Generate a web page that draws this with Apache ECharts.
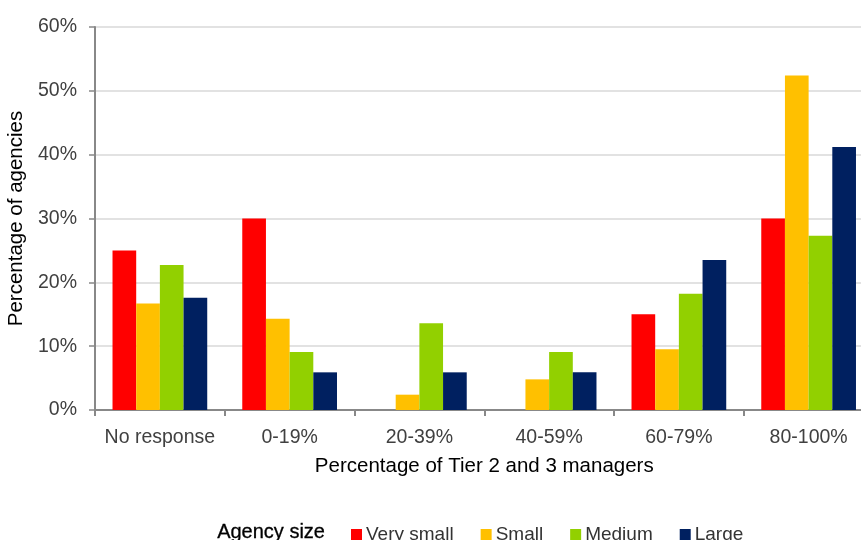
<!DOCTYPE html>
<html><head><meta charset="utf-8">
<script src="https://cdn.jsdelivr.net/npm/echarts@6/dist/echarts.min.js"></script>
<style>html,body{margin:0;padding:0;background:#fff;overflow:hidden}#c{width:861px;height:540px}</style>
</head><body><div id="c"></div>
<script>
const categories = ["No response","0-19%","20-39%","40-59%","60-79%","80-100%"];
const verySmall = [25.0, 30.0, 0, 0, 15.0, 30.0];
const small = [16.7, 14.3, 2.4, 4.8, 9.5, 52.4];
const medium = [22.7, 9.1, 13.6, 9.1, 18.2, 27.3];
const large = [17.6, 5.9, 5.9, 5.9, 23.5, 41.2];
const seriesNames = ["Very small","Small","Medium","Large"];
const colors = ["#ff0000","#ffc000","#92d000","#002060"];

const font = "'Liberation Sans', Arial, sans-serif";
const chart = echarts.init(document.getElementById('c'), null, {renderer:'canvas'});
const data = [verySmall, small, medium, large];
chart.setOption({
  animation:false,
  color: colors,
  textStyle:{fontFamily:font},
  grid:{left:95, top:27, width:778.5, height:383, containLabel:false, outerBoundsMode:'none'},
  graphic:[{type:'text', left:217, top:522, style:{text:'Agency size', fontSize:20, fontFamily:font, fill:'#000', stroke:'#000', lineWidth:0.3}}],
  legend:{
    left:346, top:520, itemWidth:11, itemHeight:11, itemGap:27,
    icon:'rect',
    textStyle:{fontSize:19, color:'#333', fontFamily:font, padding:[0,0,0,-1]},
    data: seriesNames
  },
  xAxis:{
    type:'category', data:categories,
    axisLine:{lineStyle:{color:'#888', width:2}},
    axisTick:{show:true, length:6, lineStyle:{color:'#888', width:2}},
    axisLabel:{fontSize:19.5, color:'#404040', margin:18, interval:0, fontFamily:font},
    name:'Percentage of Tier 2 and 3 managers', nameLocation:'middle', nameGap:46,
    nameTextStyle:{fontSize:20.5, color:'#000', fontFamily:font}
  },
  yAxis:{
    type:'value', min:0, max:60, interval:10,
    axisLine:{show:true, lineStyle:{color:'#888', width:2}},
    axisTick:{show:true, length:6, lineStyle:{color:'#888', width:1.5}},
    splitLine:{lineStyle:{color:'#d9d9d9', width:1.5}},
    axisLabel:{fontSize:19.5, color:'#404040', margin:18, fontFamily:font, formatter: v => v + '%'},
    name:'Percentage of agencies', nameLocation:'middle', nameGap:61,
    nameTextStyle:{fontSize:20.5, color:'#000', fontFamily:font}
  },
  series: seriesNames.map((n,i)=>({
    name:n, type:'bar', data:data[i], barGap:'0%', barCategoryGap:'27%',
    itemStyle:{color:colors[i]}
  }))
});
</script></body></html>
